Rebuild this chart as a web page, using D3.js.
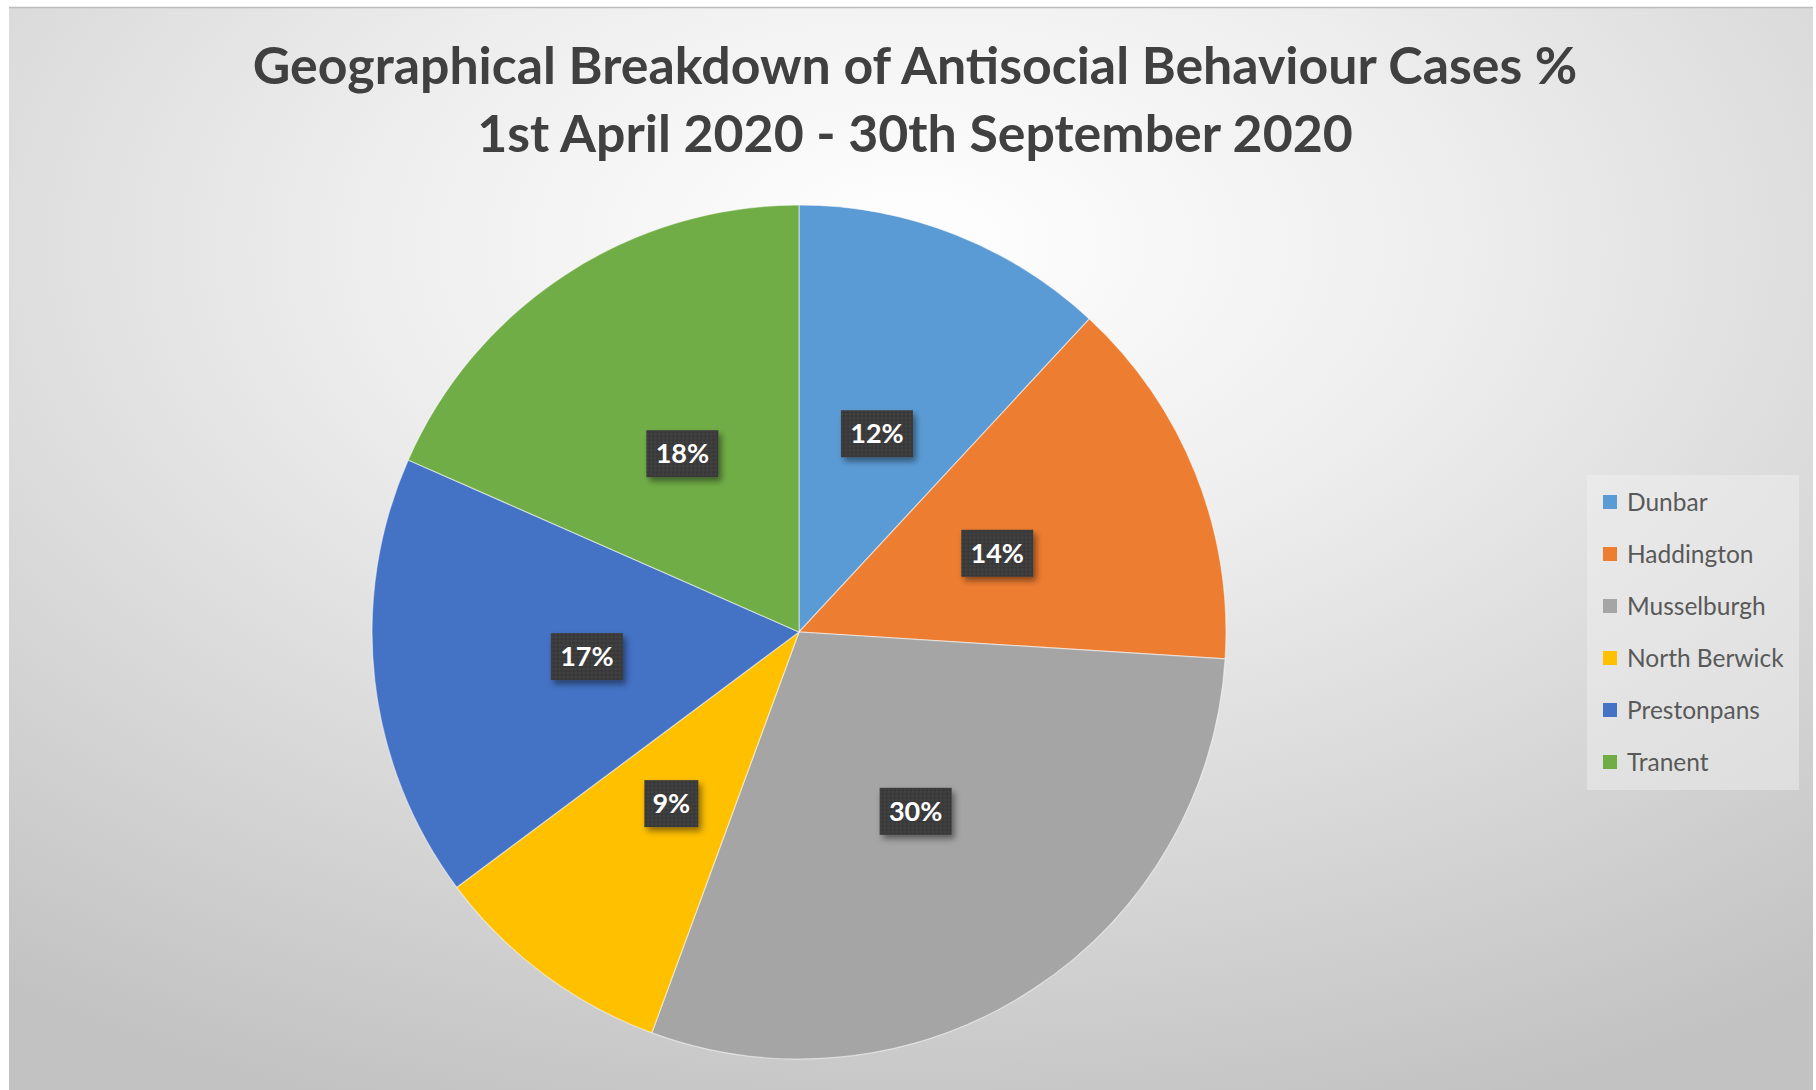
<!DOCTYPE html>
<html>
<head>
<meta charset="utf-8">
<script src="https://cdn.jsdelivr.net/npm/d3@7"></script>
<style>
  html, body { margin: 0; padding: 0; background: #ffffff; }
  svg { display: block; }
</style>
</head>
<body>
<svg id="chart" width="1816" height="1090"></svg>
<script>
// ---- Data ----
const categories = ["Dunbar", "Haddington", "Musselburgh", "North Berwick", "Prestonpans", "Tranent"];
const values = [11.9, 14.1, 29.6, 9.2, 16.8, 18.4];   // share of cases, %
const labels = ["12%", "14%", "30%", "9%", "17%", "18%"];
const colors = ["#5B9BD5", "#ED7D31", "#A5A5A5", "#FFC000", "#4472C4", "#70AD47"];
const titleLines = ["Geographical Breakdown of Antisocial Behaviour Cases %", "1st April 2020 - 30th September 2020"];

const W = 1816, H = 1090;
const svg = d3.select("#chart");
const defs = svg.append("defs");

// background gradient
const bg = defs.append("radialGradient").attr("id", "bgGrad")
  .attr("cx", "50%").attr("cy", "22%").attr("r", "85%")
  .attr("fx", "50%").attr("fy", "22%");
bg.append("stop").attr("offset", "0%").attr("stop-color", "#ffffff");
bg.append("stop").attr("offset", "35%").attr("stop-color", "#eeeeee");
bg.append("stop").attr("offset", "100%").attr("stop-color", "#c2c2c2");

// label shadow
const sh = defs.append("filter").attr("id", "lblShadow")
  .attr("x", "-30%").attr("y", "-30%").attr("width", "170%").attr("height", "170%");
sh.append("feDropShadow").attr("dx", 3).attr("dy", 4).attr("stdDeviation", 3)
  .attr("flood-color", "#000").attr("flood-opacity", 0.45);

// dotted pattern for label boxes
const pat = defs.append("pattern").attr("id", "dots").attr("patternUnits", "userSpaceOnUse")
  .attr("width", 4).attr("height", 4);
pat.append("rect").attr("width", 4).attr("height", 4).attr("fill", "#3b3b3b");
pat.append("circle").attr("cx", 1).attr("cy", 1).attr("r", 0.8).attr("fill", "#4a4a4a");
pat.append("circle").attr("cx", 3).attr("cy", 3).attr("r", 0.8).attr("fill", "#333333");

// chart area
svg.append("rect").attr("x", 9).attr("y", 7).attr("width", W - 12).attr("height", H - 7)
  .attr("fill", "url(#bgGrad)");
svg.append("line").attr("x1", 9).attr("x2", W - 3).attr("y1", 7.5).attr("y2", 7.5)
  .attr("stroke", "#bdbdbd").attr("stroke-width", 1.5);

// title
const title = svg.append("g").attr("font-family", "Lato, 'Open Sans', sans-serif")
  .attr("font-weight", 700).attr("fill", "#404040").attr("text-anchor", "middle");
const tl = title.selectAll("text").data(titleLines).join("text")
  .attr("x", 915).attr("y", (d, i) => i === 0 ? 84 : 152)
  .attr("font-size", 44)
  .text(d => d);
// fit title width (~1325px for first line)
const w0 = tl.node().getComputedTextLength();
const fs = 44 * 1325 / w0;
tl.attr("font-size", fs);

// pie
const cx = 799, cy = 632, R = 427;
const pie = d3.pie().sort(null).value(d => d.v);
const data = categories.map((c, i) => ({ c, v: values[i], color: colors[i], label: labels[i] }));
const arcs = pie(data);
const arc = d3.arc().innerRadius(0).outerRadius(R);
const labelArc = d3.arc().innerRadius(R * 0.5).outerRadius(R * 0.5);

const g = svg.append("g").attr("transform", `translate(${cx},${cy})`);
g.selectAll("path").data(arcs).join("path")
  .attr("d", arc)
  .attr("fill", d => d.data.color)
  .attr("stroke", "#ffffff").attr("stroke-opacity", 0.5).attr("stroke-width", 1.2);

// labels
const lg = g.selectAll("g.lbl").data(arcs).join("g").attr("class", "lbl")
  .attr("transform", d => `translate(${labelArc.centroid(d)})`);
lg.append("rect")
  .attr("x", d => d.data.label.length === 2 ? -27 : -36)
  .attr("width", d => d.data.label.length === 2 ? 54 : 72)
  .attr("y", -23).attr("height", 47)
  .attr("fill", "url(#dots)")
  .attr("filter", "url(#lblShadow)");
lg.append("text")
  .attr("text-anchor", "middle").attr("dy", "0.36em")
  .attr("font-family", "Lato, 'Open Sans', sans-serif").attr("font-weight", 700)
  .attr("font-size", 27).attr("fill", "#ffffff")
  .text(d => d.data.label);

// legend
const legX = 1587, legY = 475, legW = 212, legH = 315;
const leg = svg.append("g");
leg.append("rect").attr("x", legX).attr("y", legY).attr("width", legW).attr("height", legH)
  .attr("fill", "#f2f2f2").attr("fill-opacity", 0.45);
const items = leg.selectAll("g.item").data(data).join("g").attr("class", "item")
  .attr("transform", (d, i) => `translate(${legX + 16},${legY + 27 + i * 52})`);
items.append("rect").attr("x", 0).attr("y", -7).attr("width", 14).attr("height", 14)
  .attr("fill", d => d.color);
items.append("text").attr("x", 24).attr("dy", "0.35em")
  .attr("font-family", "Lato, 'Open Sans', sans-serif")
  .attr("font-size", 24.5).attr("fill", "#595959")
  .text(d => d.c);
</script>
</body>
</html>
